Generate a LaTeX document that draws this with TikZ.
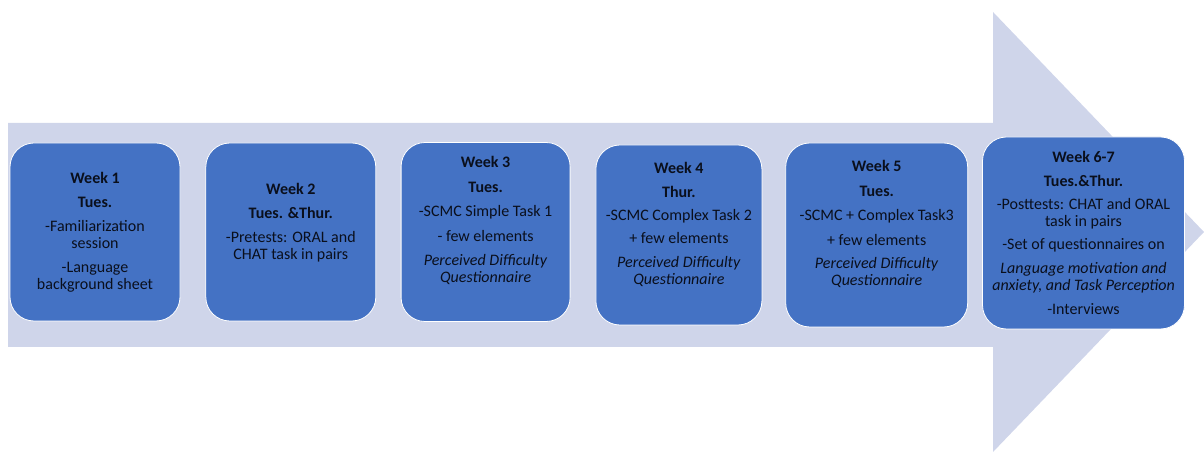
\documentclass[tikz,border=0pt]{standalone}
\usepackage{fontspec}
\setmainfont{Carlito}
\usetikzlibrary{positioning}
\definecolor{arrowbg}{HTML}{CFD5EA}
\definecolor{boxblue}{HTML}{4472C4}
\definecolor{ink}{HTML}{0A0F1C}

\begin{document}
\begin{tikzpicture}[
      x=1pt, y=1pt,
      node distance=25pt,
      week/.style={draw=white, line width=0.8pt, fill=boxblue, rounded corners=24pt, align=center,
        text=ink, font=\fontsize{16}{17}\selectfont, inner sep=2pt}
    ]
    \useasboundingbox (0,0) rectangle (1204,452);

    % big background arrow
    \fill[arrowbg] (8,105) -- (8,329) -- (993,329) -- (993,440) -- (1204,220) -- (993,0) -- (993,105) -- cycle;

    % one box per week
    \node[week, minimum width=170pt, minimum height=178pt] (w1) at (95,220)
      {\textbf{Week 1}\\[7pt] \textbf{Tues.}\\[7pt] -Familiarization\\ session\\[7pt] -Language\\ background sheet};

    \node[week, minimum width=170pt, minimum height=178pt, right=of w1] (w2)
      {\textbf{Week 2}\\[7pt] \textbf{Tues. \&Thur.}\\[7pt] -Pretests: ORAL and\\ CHAT task in pairs\\[4pt] ~};

    \node[week, minimum width=169pt, minimum height=179pt, right=24.5pt of w2] (w3)
      {\textbf{Week 3}\\[7.5pt] \textbf{Tues.}\\[7.5pt] -SCMC Simple Task 1\\[7.5pt] - few elements\\[7.5pt]
       \textit{Perceived Difficulty}\\ \textit{Questionnaire}\\[8pt] ~};

    \node[week, minimum width=166pt, minimum height=180pt, right=25pt of w3, yshift=-3pt] (w4)
      {\textbf{Week 4}\\[6.5pt] \textbf{Thur.}\\[6.5pt] -SCMC Complex Task 2\\[6pt] + few elements\\[6.5pt]
       \textit{Perceived Difficulty}\\ \textit{Questionnaire}\\[6pt] ~};

    \node[week, minimum width=182pt, minimum height=184pt, right=23pt of w4] (w5)
      {\textbf{Week 5}\\[8pt] \textbf{Tues.}\\[7pt] -SCMC + Complex Task3\\[8pt] + few elements\\[6pt]
       \textit{Perceived Difficulty}\\ \textit{Questionnaire}\\[8pt] ~};

    \node[week, minimum width=202pt, minimum height=192pt, right=14pt of w5, yshift=2pt] (w6)
      {\textbf{Week 6-7}\\[6.5pt] \textbf{Tues.\&Thur.}\\[6pt] -Posttests: CHAT and ORAL\\ task in pairs\\[6.5pt]
       -Set of questionnaires on\\[7pt] \textit{Language motivation and}\\ \textit{anxiety, and Task Perception}\\[6.5pt] -Interviews};

  \end{tikzpicture}
\end{document}
